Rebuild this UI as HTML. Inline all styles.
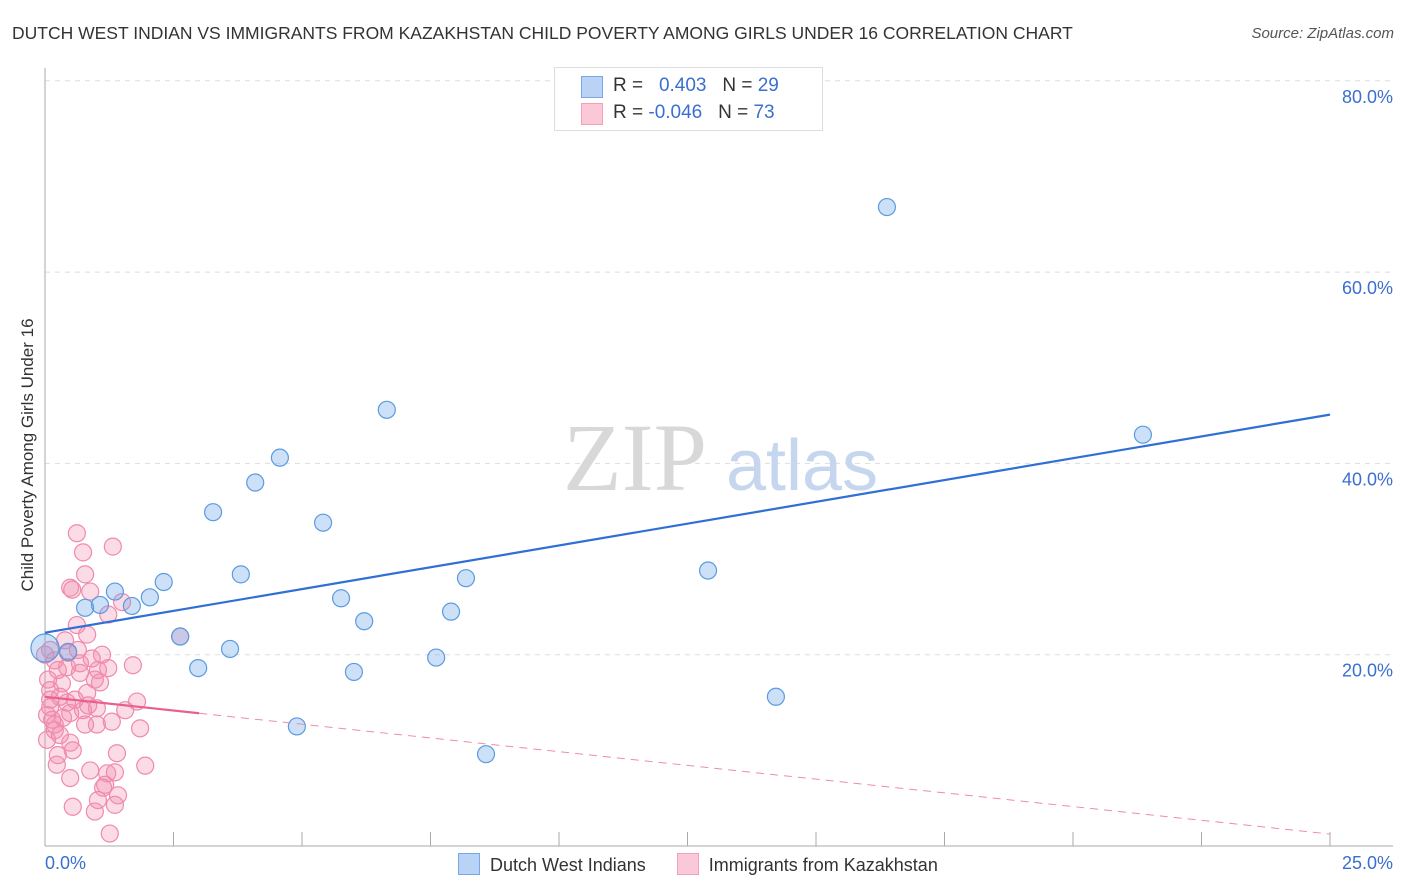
<!DOCTYPE html>
<html><head><meta charset="utf-8"><style>
body{margin:0;background:#fff;font-family:"Liberation Sans",sans-serif}
#wrap{position:relative;width:1406px;height:892px;overflow:hidden}
</style></head><body>
<div id="wrap">
<div style="position:absolute;left:12px;top:23px;font-size:17.5px;color:#333">DUTCH WEST INDIAN VS IMMIGRANTS FROM KAZAKHSTAN CHILD POVERTY AMONG GIRLS UNDER 16 CORRELATION CHART</div>
<div style="position:absolute;right:12px;top:25px;font-size:15px;color:#555;font-style:italic">Source: ZipAtlas.com</div>
<svg id="svg" width="1406" height="892" style="position:absolute;left:0;top:0"></svg>
</div>
<script>
const blueX=[0,0.45,0.78,1.07,1.36,1.69,2.04,2.31,2.63,2.98,3.27,3.60,3.81,4.09,4.57,4.90,5.41,5.76,6.01,6.21,6.65,7.61,7.90,8.19,8.58,12.90,14.22,16.38,21.36];
const blueY=[20.7,20.3,24.9,25.2,26.6,25.1,26.0,27.6,21.9,18.6,34.9,20.6,28.4,38.0,40.6,12.5,33.8,25.9,18.2,23.5,45.6,19.7,24.5,28.0,9.6,28.8,15.6,66.8,43.0];
const pinkX=[0.62,0.74,1.32,0.78,0.49,0.53,0.88,1.50,1.23,0.62,0.82,2.63,0.10,0.45,0.64,0.68,0.43,1.71,1.23,1.03,0.68,1.07,0.33,0.10,0.82,0.43,0.10,0.74,1.01,1.79,1.56,1.30,1.01,0.35,0.19,0.19,1.85,0.04,0.49,0.54,1.40,0.25,0.23,1.95,0.88,1.21,1.36,0.49,1.17,1.13,1.42,1.03,0.54,0.97,1.36,1.26,0.19,0.10,0.04,0.29,0.39,0.91,0,0.58,0.14,0.84,0.29,0.06,0.97,0.49,0.25,1.11,0.78];
const pinkY=[32.7,30.7,31.3,28.4,27.0,26.8,26.6,25.5,24.2,23.1,22.1,21.9,20.5,20.2,20.5,19.1,18.7,18.9,18.6,18.4,18.1,17.1,17.0,16.3,16.0,15.0,14.5,14.2,14.4,15.1,14.2,13.0,12.7,13.4,12.7,12.1,12.3,11.1,10.8,10.0,9.7,9.5,8.5,8.4,7.9,7.6,7.7,7.1,6.4,6.1,5.3,4.8,4.1,3.6,4.3,1.3,19.4,15.3,13.7,15.6,21.5,19.6,20.0,15.3,13.2,14.7,11.6,17.4,17.4,13.9,18.4,20.0,12.7];
const yTicks=[20,40,60,80];
const blueLine=[22.3,45.1];
const pinkLine=[15.6,1.25];
const pinkSolidEnd=3.0;
const X=v=>45+v/25*1285, Y=v=>846-v/20*191.3;
const svg=document.getElementById('svg');const NS='http://www.w3.org/2000/svg';
function mk(t,a,name){const e=document.createElementNS(NS,t);for(const k in a)e.setAttribute(k,a[k]);


svg.appendChild(e);return e;}
yTicks.forEach(t=>{mk('line',{x1:45,x2:1393,y1:Y(t),y2:Y(t),stroke:'#ddd','stroke-dasharray':'5,5'},'gridline');
const tx=mk('text',{x:1393,y:Y(t)+22,'text-anchor':'end','font-size':18,fill:'#3a6fd0','font-family':'Liberation Sans'},'y-tick-label');tx.textContent=t.toFixed(1)+'%';});
mk('line',{x1:45,x2:45,y1:68,y2:846,stroke:'#aaa'},'y-axis');
mk('line',{x1:45,x2:1393,y1:846,y2:846,stroke:'#aaa'},'x-axis');
for(let i=1;i<=10;i++)mk('line',{x1:X(i*2.5),x2:X(i*2.5),y1:832,y2:846,stroke:'#aaa'},'x-tick');
const w1=mk('text',{x:635,y:490,'text-anchor':'middle','font-size':96,fill:'#d8d8d8','font-family':'Liberation Serif'},'watermark-zip');w1.textContent='ZIP';
const w2=mk('text',{x:802,y:490,'text-anchor':'middle','font-size':72,fill:'#c5d6ee','font-family':'Liberation Sans'},'watermark-atlas');w2.textContent='atlas';
pinkX.forEach((x,i)=>mk('circle',{cx:X(x),cy:Y(pinkY[i]),r:8.5,fill:'rgba(244,143,177,0.32)',stroke:'#f08aab','stroke-width':1.2},'pink-point'));
blueX.forEach((x,i)=>mk('circle',{cx:X(x),cy:Y(blueY[i]),r:i==0?14:8.5,fill:'rgba(110,165,232,0.35)',stroke:'#5b9be0','stroke-width':1.2},'blue-point'));
mk('line',{x1:X(0),y1:Y(blueLine[0]),x2:X(25),y2:Y(blueLine[1]),stroke:'#2f6fd6','stroke-width':2.2},'blue-trend-line');
const py=v=>pinkLine[0]+(pinkLine[1]-pinkLine[0])*v/25;
mk('line',{x1:X(0),y1:Y(pinkLine[0]),x2:X(pinkSolidEnd),y2:Y(py(pinkSolidEnd)),stroke:'#e8608e','stroke-width':2.2},'pink-trend-line');
mk('line',{x1:X(pinkSolidEnd),y1:Y(py(pinkSolidEnd)),x2:X(25),y2:Y(pinkLine[1]),stroke:'#f08aab','stroke-width':1,'stroke-dasharray':'8,6'},'pink-trend-extension');
</script>
<div style="position:absolute;left:28px;top:455px;transform:translate(-50%,-50%) rotate(-90deg);font-size:17px;color:#333;white-space:nowrap">Child Poverty Among Girls Under 16</div>
<div style="position:absolute;left:45px;top:853px;font-size:18px;color:#3a6fd0">0.0%</div>
<div style="position:absolute;right:13px;top:853px;font-size:18px;color:#3a6fd0">25.0%</div>
<div style="position:absolute;left:554px;top:67px;width:267px;height:62px;border:1px solid #ddd;background:#fff;font-size:19px;color:#333">
 <div style="position:absolute;left:26px;top:8px;width:20px;height:20px;background:#b8d3f5;border:1px solid #7aa8e6"></div>
 <div style="position:absolute;left:58px;top:7px">R = &nbsp;&nbsp;<span style="color:#3a6fd0">0.403</span>&nbsp;&nbsp;&nbsp;N = <span style="color:#3a6fd0">29</span></div>
 <div style="position:absolute;left:26px;top:35px;width:20px;height:20px;background:#fbc8d8;border:1px solid #f2a0bb"></div>
 <div style="position:absolute;left:58px;top:34px">R = <span style="color:#3a6fd0">-0.046</span>&nbsp;&nbsp;&nbsp;N = <span style="color:#3a6fd0">73</span></div>
</div>
<div style="position:absolute;left:458px;top:853px;font-size:18px;color:#333;white-space:nowrap">
 <span style="display:inline-block;width:20px;height:20px;background:#b8d3f5;border:1px solid #7aa8e6;vertical-align:-4px"></span>&nbsp; Dutch West Indians
 <span style="display:inline-block;width:20px;height:20px;background:#fbc8d8;border:1px solid #f2a0bb;vertical-align:-4px;margin-left:26px"></span>&nbsp; Immigrants from Kazakhstan
</div>
</body></html>
